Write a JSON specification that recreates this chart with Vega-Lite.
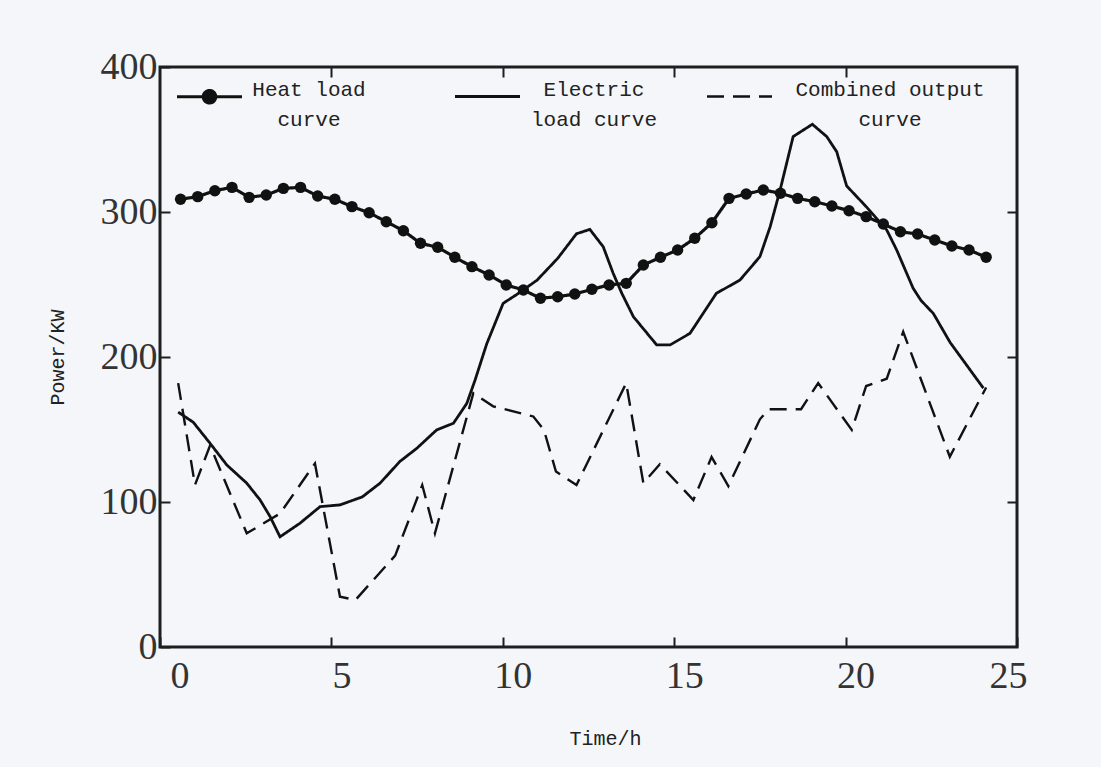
{
  "$schema": "https://vega.github.io/schema/vega-lite/v6.json",
  "width": 857,
  "height": 580,
  "autosize": {"type": "none"},
  "padding": {"left": 160, "top": 67, "right": 84, "bottom": 120},
  "background": "#f4f6f9",
  "config": {
    "view": {"stroke": "#1e1e1e", "strokeWidth": 3, "fill": "#f4f6f9"},
    "axis": {
      "domain": false, "grid": false,
      "tickColor": "#1e1e1e", "tickWidth": 2, "tickSize": -10,
      "labelFont": "Liberation Serif", "labelFontSize": 38, "labelColor": "#333",
      "titleFont": "Liberation Mono", "titleFontSize": 20, "titleFontWeight": "normal", "titleColor": "#222"
    },
    "legend": {
      "orient": "none", "legendX": 15, "legendY": -5, "direction": "horizontal", "columns": 3,
      "columnPadding": 0, "symbolSize": 4225, "symbolStrokeWidth": 3, "symbolStrokeColor": "#111",
      "labelFont": "Liberation Mono", "labelFontSize": 21, "labelColor": "#222", "labelOffset": 0,
      "labelAlign": "center", "labelLimit": 0, "padding": 0
    }
  },
  "data": {"values": [
    {"series": "Heat load curve", "t": 0.6, "p": 308.8},
    {"series": "Heat load curve", "t": 1.1, "p": 310.6},
    {"series": "Heat load curve", "t": 1.6, "p": 314.7},
    {"series": "Heat load curve", "t": 2.1, "p": 317},
    {"series": "Heat load curve", "t": 2.6, "p": 310.1},
    {"series": "Heat load curve", "t": 3.1, "p": 311.7},
    {"series": "Heat load curve", "t": 3.6, "p": 316.3},
    {"series": "Heat load curve", "t": 4.1, "p": 317},
    {"series": "Heat load curve", "t": 4.6, "p": 311},
    {"series": "Heat load curve", "t": 5.1, "p": 308.8},
    {"series": "Heat load curve", "t": 5.6, "p": 303.7},
    {"series": "Heat load curve", "t": 6.1, "p": 299.5},
    {"series": "Heat load curve", "t": 6.6, "p": 293.3},
    {"series": "Heat load curve", "t": 7.1, "p": 287.1},
    {"series": "Heat load curve", "t": 7.6, "p": 278.4},
    {"series": "Heat load curve", "t": 8.1, "p": 275.7},
    {"series": "Heat load curve", "t": 8.6, "p": 268.8},
    {"series": "Heat load curve", "t": 9.1, "p": 262.3},
    {"series": "Heat load curve", "t": 9.6, "p": 256.6},
    {"series": "Heat load curve", "t": 10.1, "p": 249.7},
    {"series": "Heat load curve", "t": 10.6, "p": 246.2},
    {"series": "Heat load curve", "t": 11.1, "p": 240.5},
    {"series": "Heat load curve", "t": 11.6, "p": 241.6},
    {"series": "Heat load curve", "t": 12.1, "p": 243.4},
    {"series": "Heat load curve", "t": 12.6, "p": 246.7},
    {"series": "Heat load curve", "t": 13.1, "p": 249.7},
    {"series": "Heat load curve", "t": 13.6, "p": 250.8},
    {"series": "Heat load curve", "t": 14.1, "p": 263.4},
    {"series": "Heat load curve", "t": 14.6, "p": 268.8},
    {"series": "Heat load curve", "t": 15.1, "p": 273.8},
    {"series": "Heat load curve", "t": 15.6, "p": 281.9},
    {"series": "Heat load curve", "t": 16.1, "p": 292.6},
    {"series": "Heat load curve", "t": 16.6, "p": 309.4},
    {"series": "Heat load curve", "t": 17.1, "p": 312.4},
    {"series": "Heat load curve", "t": 17.6, "p": 315.2},
    {"series": "Heat load curve", "t": 18.1, "p": 312.9},
    {"series": "Heat load curve", "t": 18.6, "p": 309.4},
    {"series": "Heat load curve", "t": 19.1, "p": 307.1},
    {"series": "Heat load curve", "t": 19.6, "p": 304.1},
    {"series": "Heat load curve", "t": 20.1, "p": 300.9},
    {"series": "Heat load curve", "t": 20.6, "p": 296.8},
    {"series": "Heat load curve", "t": 21.1, "p": 291.7},
    {"series": "Heat load curve", "t": 21.6, "p": 286.4},
    {"series": "Heat load curve", "t": 22.1, "p": 284.8},
    {"series": "Heat load curve", "t": 22.6, "p": 280.7},
    {"series": "Heat load curve", "t": 23.1, "p": 276.6},
    {"series": "Heat load curve", "t": 23.6, "p": 273.8},
    {"series": "Heat load curve", "t": 24.1, "p": 268.8},
    {"series": "Electric load curve", "t": 0.53, "p": 162},
    {"series": "Electric load curve", "t": 0.97, "p": 155},
    {"series": "Electric load curve", "t": 1.46, "p": 140.5},
    {"series": "Electric load curve", "t": 1.95, "p": 125.5},
    {"series": "Electric load curve", "t": 2.53, "p": 113},
    {"series": "Electric load curve", "t": 2.92, "p": 101.4},
    {"series": "Electric load curve", "t": 3.21, "p": 90},
    {"series": "Electric load curve", "t": 3.5, "p": 76},
    {"series": "Electric load curve", "t": 4.08, "p": 85.3},
    {"series": "Electric load curve", "t": 4.67, "p": 96.8},
    {"series": "Electric load curve", "t": 5.25, "p": 98},
    {"series": "Electric load curve", "t": 5.9, "p": 103.5},
    {"series": "Electric load curve", "t": 6.42, "p": 113},
    {"series": "Electric load curve", "t": 7.0, "p": 128},
    {"series": "Electric load curve", "t": 7.49, "p": 137},
    {"series": "Electric load curve", "t": 8.07, "p": 149.7},
    {"series": "Electric load curve", "t": 8.56, "p": 154.3},
    {"series": "Electric load curve", "t": 8.95, "p": 168},
    {"series": "Electric load curve", "t": 9.19, "p": 184},
    {"series": "Electric load curve", "t": 9.53, "p": 209},
    {"series": "Electric load curve", "t": 10.01, "p": 237},
    {"series": "Electric load curve", "t": 10.4, "p": 243},
    {"series": "Electric load curve", "t": 11.0, "p": 253},
    {"series": "Electric load curve", "t": 11.6, "p": 268},
    {"series": "Electric load curve", "t": 12.15, "p": 285},
    {"series": "Electric load curve", "t": 12.54, "p": 288},
    {"series": "Electric load curve", "t": 12.93, "p": 276},
    {"series": "Electric load curve", "t": 13.22, "p": 257.7},
    {"series": "Electric load curve", "t": 13.47, "p": 244},
    {"series": "Electric load curve", "t": 13.81, "p": 227.8},
    {"series": "Electric load curve", "t": 14.49, "p": 208.3},
    {"series": "Electric load curve", "t": 14.88, "p": 208.3},
    {"series": "Electric load curve", "t": 15.46, "p": 216.3},
    {"series": "Electric load curve", "t": 16.23, "p": 243.9},
    {"series": "Electric load curve", "t": 16.92, "p": 253.1},
    {"series": "Electric load curve", "t": 17.5, "p": 269.2},
    {"series": "Electric load curve", "t": 17.8, "p": 289.9},
    {"series": "Electric load curve", "t": 18.09, "p": 315.2},
    {"series": "Electric load curve", "t": 18.47, "p": 352},
    {"series": "Electric load curve", "t": 19.03, "p": 360.5},
    {"series": "Electric load curve", "t": 19.45, "p": 352},
    {"series": "Electric load curve", "t": 19.74, "p": 341.6},
    {"series": "Electric load curve", "t": 20.03, "p": 318},
    {"series": "Electric load curve", "t": 20.6, "p": 303.7},
    {"series": "Electric load curve", "t": 21.2, "p": 287.6},
    {"series": "Electric load curve", "t": 21.49, "p": 273.8},
    {"series": "Electric load curve", "t": 21.97, "p": 247.4},
    {"series": "Electric load curve", "t": 22.2, "p": 239},
    {"series": "Electric load curve", "t": 22.56, "p": 230},
    {"series": "Electric load curve", "t": 23.05, "p": 210},
    {"series": "Electric load curve", "t": 24.02, "p": 178.5},
    {"series": "Combined output curve", "t": 0.53, "p": 182},
    {"series": "Combined output curve", "t": 1.02, "p": 111.7},
    {"series": "Combined output curve", "t": 1.46, "p": 139},
    {"series": "Combined output curve", "t": 2.53, "p": 78.4},
    {"series": "Combined output curve", "t": 3.5, "p": 92},
    {"series": "Combined output curve", "t": 4.52, "p": 126.6},
    {"series": "Combined output curve", "t": 5.25, "p": 34.7},
    {"series": "Combined output curve", "t": 5.7, "p": 32.4},
    {"series": "Combined output curve", "t": 6.86, "p": 63},
    {"series": "Combined output curve", "t": 7.65, "p": 111.7},
    {"series": "Combined output curve", "t": 8.02, "p": 78.4},
    {"series": "Combined output curve", "t": 9.14, "p": 175},
    {"series": "Combined output curve", "t": 9.72, "p": 166},
    {"series": "Combined output curve", "t": 10.89, "p": 159},
    {"series": "Combined output curve", "t": 11.2, "p": 149.7},
    {"series": "Combined output curve", "t": 11.55, "p": 121},
    {"series": "Combined output curve", "t": 12.15, "p": 111.7},
    {"series": "Combined output curve", "t": 13.6, "p": 182},
    {"series": "Combined output curve", "t": 14.1, "p": 113},
    {"series": "Combined output curve", "t": 14.58, "p": 126},
    {"series": "Combined output curve", "t": 15.56, "p": 101.4},
    {"series": "Combined output curve", "t": 16.09, "p": 131},
    {"series": "Combined output curve", "t": 16.58, "p": 111},
    {"series": "Combined output curve", "t": 17.5, "p": 157},
    {"series": "Combined output curve", "t": 17.75, "p": 164},
    {"series": "Combined output curve", "t": 18.7, "p": 164},
    {"series": "Combined output curve", "t": 19.2, "p": 182},
    {"series": "Combined output curve", "t": 20.18, "p": 149.7},
    {"series": "Combined output curve", "t": 20.6, "p": 180},
    {"series": "Combined output curve", "t": 21.2, "p": 185},
    {"series": "Combined output curve", "t": 21.68, "p": 217.4},
    {"series": "Combined output curve", "t": 23.04, "p": 131.2},
    {"series": "Combined output curve", "t": 24.1, "p": 179}
  ]},
  "layer": [
    {
      "mark": {"type": "line", "color": "#111"},
      "encoding": {
        "x": {"field": "t", "type": "quantitative",
              "scale": {"domain": [0, 25], "nice": false, "zero": false},
              "axis": {"orient": "bottom", "values": [0, 5, 10, 15, 20, 25], "labelPadding": 20, "labelOffset": 10,
                       "title": "Time/h", "titleX": 445, "titleY": 91, "titleBaseline": "middle"}},
        "y": {"field": "p", "type": "quantitative",
              "scale": {"domain": [0, 400], "nice": false},
              "axis": {"orient": "left", "values": [0, 100, 200, 300, 400], "labelPadding": 13,
                       "title": "Power/KW", "titleX": -103, "titleY": 290, "titleAngle": -90,
                       "titleBaseline": "middle", "titleAlign": "center"}},
        "strokeDash": {"field": "series", "type": "nominal",
                       "scale": {"domain": ["Heat load curve", "Electric load curve", "Combined output curve"],
                                 "range": [[1, 0], [1, 0], [17, 9]]},
                       "legend": {
                         "title": null,
                         "labelExpr": "datum.label === 'Heat load curve' ? ['Heat load', 'curve'] : datum.label === 'Electric load curve' ? ['Electric', 'load curve'] : ['Combined output', 'curve']",
                         "encode": {
                           "symbols": {"update": {
                             "shape": {"signal": "datum.value === 'Heat load curve' ? 'M-1,0H1M-0.19,0A0.19,0.19 0 1,0 0.19,0A0.19,0.19 0 1,0 -0.19,0M7.15,0' : datum.value === 'Electric load curve' ? 'M-1,0H1M6.42,0' : 'M-1,0H1'"},
                             "fill": {"signal": "datum.value === 'Heat load curve' ? '#111' : 'transparent'"},
                             "stroke": {"value": "#111"},
                             "strokeWidth": {"value": 3},
                             "strokeDash": {"signal": "datum.value === 'Combined output curve' ? [26, 12] : [1, 0]"}
                           }},
                           "labels": {"update": {
                             "lineHeight": {"value": 30},
                             "dy": {"value": -7},
                             "align": {"value": "center"},
                             "dx": {"signal": "datum.value === 'Heat load curve' ? 65 : datum.value === 'Electric load curve' ? 72 : 116"}
                           }}
                         }
                       }},
        "strokeWidth": {"field": "series", "type": "nominal",
                        "scale": {"domain": ["Heat load curve", "Electric load curve", "Combined output curve"],
                                  "range": [3.2, 2.4, 3]},
                        "legend": null}
      }
    },
    {
      "transform": [{"filter": "datum.series === 'Heat load curve'"}],
      "mark": {"type": "point", "filled": true, "color": "#111", "size": 130, "opacity": 1},
      "encoding": {
        "x": {"field": "t", "type": "quantitative",
              "axis": {"orient": "top", "values": [5, 10, 15, 20], "labels": false, "title": null}},
        "y": {"field": "p", "type": "quantitative",
              "axis": {"orient": "right", "values": [100, 200, 300], "labels": false, "title": null}}
      }
    }
  ],
  "resolve": {"axis": {"x": "independent", "y": "independent"}}
}
